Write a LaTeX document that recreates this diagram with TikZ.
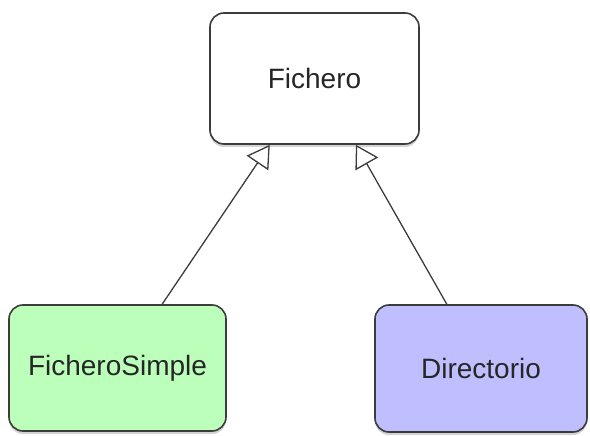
\documentclass[tikz,border=0pt]{standalone}
\usepackage{fontspec}
\setmainfont{Liberation Sans}
\usetikzlibrary{arrows.meta,shadows}
\definecolor{simplegreen}{RGB}{187,255,187}
\definecolor{dirblue}{RGB}{191,191,255}
\definecolor{boxline}{RGB}{60,60,60}

\tikzset{
  clase/.style={draw=boxline,line width=1.6pt,rounded corners=14pt,inner sep=0pt,
    font=\fontsize{28}{32}\selectfont,text=black!85,
    drop shadow={shadow xshift=0pt,shadow yshift=-3pt,opacity=0.35}},
  hereda/.style={-{Triangle[open,length=22pt,width=26pt,line width=1.3pt]},line width=1.3pt,draw=boxline}
}

\begin{document}
\begin{tikzpicture}[x=1pt,y=-1pt]
\useasboundingbox (0,0) rectangle (590,436);
\node[clase,fill=white,minimum width=209pt,minimum height=131pt] (fich) at (314.5,78.5) {Fichero}; % padre
\node[clase,fill=simplegreen,minimum width=217pt,minimum height=126pt] (fsimple) at (117.5,368) {FicheroSimple};
\node[clase,fill=dirblue,minimum width=212pt,minimum height=127pt] (dir) at (481,368.5) {Directorio};
\draw[hereda] (fsimple.55) -- (fich.236);
\draw[hereda] (dir.118) -- (fich.302);
\end{tikzpicture}
\end{document}
